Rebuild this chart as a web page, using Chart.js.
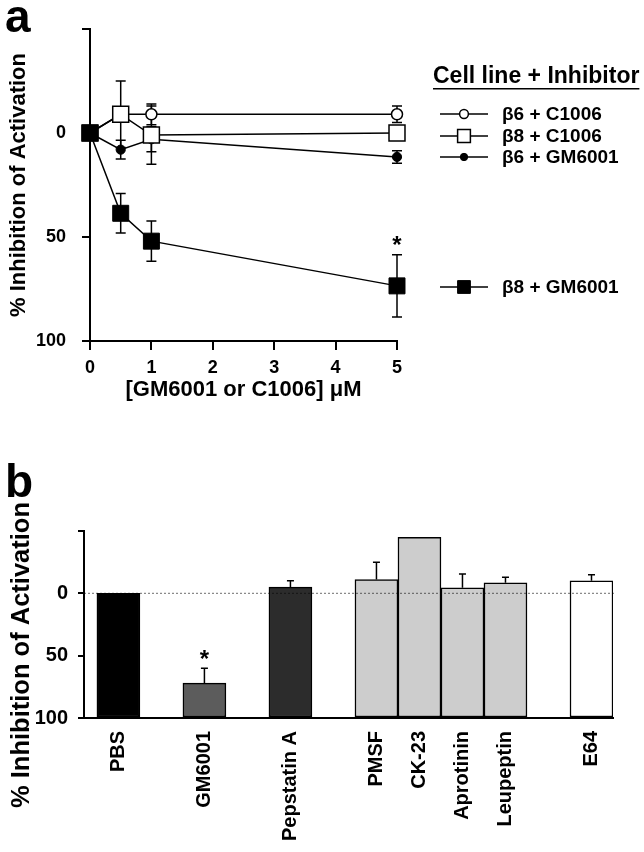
<!DOCTYPE html>
<html>
<head>
<meta charset="utf-8">
<script src="https://cdn.jsdelivr.net/npm/chart.js@4.4.0/dist/chart.umd.min.js"></script>
<style>
  html, body { margin: 0; padding: 0; background: #fff; }
  #wrap { position: relative; width: 644px; height: 852px; overflow: hidden; }
  #chartA { position: absolute; left: 0; top: 0; }
  #chartB { position: absolute; left: 0; top: 420px; }
</style>
</head>
<body>
<div id="wrap">
  <canvas id="chartA" width="644" height="420"></canvas>
  <canvas id="chartB" width="644" height="432"></canvas>
</div>
<script>
// ---------------- PANEL A DATA ----------------
const doses = [0, 0.5, 1, 5];
const doseTicks = [0, 1, 2, 3, 4, 5];
const inhibTicks = [-50, 0, 50, 100];

const b8GM6001 = [0, 38.6, 52, 73.5];
const b8GM6001Err = [0, 9.5, 9.7, 15];
const b8GM6001Star = [false, false, false, true];

const b8C1006 = [0, -9, 1, 0];
const b8C1006Err = [0, 16, 14, 2];

const b6C1006 = [0, -9, -9, -9];
const b6C1006Err = [0, 0, 5, 4];

const b6GM6001 = [0, 8, 3, 11.5];
const b6GM6001Err = [0, 4.5, 6, 3];

// ---------------- PANEL B DATA ----------------
const drugs = ["PBS", "", "GM6001", "", "Pepstatin A", "", "PMSF", "CK-23", "Aprotinin", "Leupeptin", "", "E64"];
const drugInhib = [0, null, 72, null, -5, null, -11, -45, -4.5, -8.5, null, -10];
const drugErr = [0, null, 12, null, 5, null, 14, 0, 11, 4.5, null, 5];
const drugStar = [false, null, true, null, false, null, false, false, false, false, null, false];
const drugFill = ["#000000", null, "#5c5c5c", null, "#2c2c2c", null, "#cdcdcd", "#cdcdcd", "#cdcdcd", "#cdcdcd", null, "#ffffff"];

const FONT = "'Liberation Sans', Arial, Helvetica, sans-serif";
Chart.defaults.font.family = FONT;
Chart.defaults.font.weight = "bold";
Chart.defaults.color = "#000";

const pts = (xs, ys) => xs.map((x, i) => ({ x, y: ys[i] }));

// ---------------- SHARED DRAW HELPERS ----------------
function drawErrorBars(chart, cap, upOnly) {
  const ctx = chart.ctx, xs = chart.scales.x, ys = chart.scales.y;
  ctx.save();
  ctx.strokeStyle = "#000";
  ctx.lineWidth = 1.5;
  chart.data.datasets.forEach(ds => {
    if (!ds.errors) return;
    ds.data.forEach((p, i) => {
      const e = ds.errors[p.i !== undefined ? p.i : i];
      if (!e) return;
      const x = xs.getPixelForValue(p.x);
      const yUp = ys.getPixelForValue(p.y - e);
      const yDn = ys.getPixelForValue(upOnly ? p.y : p.y + e);
      ctx.beginPath();
      ctx.moveTo(x, yUp); ctx.lineTo(x, yDn);
      ctx.moveTo(x - cap, yUp); ctx.lineTo(x + cap, yUp);
      if (!upOnly) { ctx.moveTo(x - cap, yDn); ctx.lineTo(x + cap, yDn); }
      ctx.stroke();
    });
  });
  ctx.restore();
}

function drawStars(chart) {
  const ctx = chart.ctx, xs = chart.scales.x, ys = chart.scales.y;
  ctx.save();
  ctx.fillStyle = "#000";
  ctx.font = "bold 24px " + FONT;
  ctx.textAlign = "center";
  ctx.textBaseline = "alphabetic";
  chart.data.datasets.forEach(ds => {
    if (!ds.stars) return;
    ds.data.forEach((p, i) => {
      const k = p.i !== undefined ? p.i : i;
      if (!ds.stars[k]) return;
      const x = xs.getPixelForValue(p.x);
      const yCap = ys.getPixelForValue(p.y - (ds.errors[k] || 0));
      ctx.fillText("*", x, yCap - 15 + 13.5);
    });
  });
  ctx.restore();
}

function panelLetter(ctx, letter, baseline) {
  ctx.save();
  ctx.fillStyle = "#000";
  ctx.font = "bold 46px " + FONT;
  ctx.textBaseline = "alphabetic";
  ctx.fillText(letter, 5, baseline);
  ctx.restore();
}

// ---------------- PANEL A ----------------
const legendA = {
  id: "legendA",
  beforeDatasetsDraw(chart) { drawErrorBars(chart, 5, false); },
  afterDatasetsDraw(chart) { drawStars(chart); },
  afterDraw(chart) {
    const ctx = chart.ctx;
    panelLetter(ctx, "a", 32);
    ctx.save();
    ctx.fillStyle = "#000";
    ctx.font = "bold 23px " + FONT;
    ctx.textBaseline = "alphabetic";
    ctx.fillText("Cell line + Inhibitor", 433, 83);
    const w = ctx.measureText("Cell line + Inhibitor").width;
    ctx.fillRect(433, 88, w, 1.5);
    // rows in legend order, placed beside series ends
    const rows = [[2, 114], [1, 136], [3, 157], [0, 287]];
    ctx.font = "bold 19px " + FONT;
    ctx.textBaseline = "middle";
    rows.forEach(([di, y]) => {
      const ds = chart.data.datasets[di];
      ctx.strokeStyle = "#000";
      ctx.lineWidth = 1.3;
      ctx.beginPath(); ctx.moveTo(440, y); ctx.lineTo(488, y); ctx.stroke();
      ctx.fillStyle = ds.pointBackgroundColor;
      ctx.strokeStyle = "#000";
      ctx.lineWidth = ds.pointBorderWidth;
      Chart.helpers.drawPoint(ctx, {
        pointStyle: ds.pointStyle, radius: ds.pointRadius * 0.8, rotation: 0, borderWidth: ds.pointBorderWidth
      }, 464, y);
      ctx.fillStyle = "#000";
      ctx.fillText(ds.label, 502, y + 1);
    });
    ctx.restore();
  }
};

function lineSet(label, ys, errs, style) {
  return Object.assign({
    label, data: pts(doses, ys), errors: errs, clip: false,
    borderColor: "#000", borderWidth: 1.5, tension: 0, fill: false,
    pointBorderColor: "#000"
  }, style);
}

new Chart(document.getElementById("chartA"), {
  type: "line",
  data: {
    datasets: [
      lineSet("β8 + GM6001", b8GM6001, b8GM6001Err, { stars: b8GM6001Star, pointStyle: "rect", pointRadius: 11.3, pointBackgroundColor: "#000", pointBorderWidth: 1 }),
      lineSet("β8 + C1006", b8C1006, b8C1006Err, { pointStyle: "rect", pointRadius: 11.3, pointBackgroundColor: "#fff", pointBorderWidth: 1.5 }),
      lineSet("β6 + C1006", b6C1006, b6C1006Err, { pointStyle: "circle", pointRadius: 5.5, pointBackgroundColor: "#fff", pointBorderWidth: 1.5 }),
      lineSet("β6 + GM6001", b6GM6001, b6GM6001Err, { pointStyle: "circle", pointRadius: 4.6, pointBackgroundColor: "#000", pointBorderWidth: 1 })
    ]
  },
  options: {
    responsive: false,
    animation: false,
    events: [],
    layout: { padding: { top: 29, right: 247, left: 0, bottom: 0 } },
    plugins: { legend: { display: false }, tooltip: { enabled: false } },
    scales: {
      x: {
        type: "linear", min: 0, max: 5,
        afterBuildTicks: s => { s.ticks = doseTicks.map(v => ({ value: v })); },
        afterFit: s => { s.height = 79; },
        ticks: { padding: 7, font: { size: 18, weight: "bold" }, color: "#000" },
        grid: { drawOnChartArea: false, tickLength: 9, color: "#000", lineWidth: 2 },
        border: { color: "#000", width: 2 },
        title: { display: true, text: "[GM6001 or C1006] μM", color: "#000", font: { size: 22, weight: "bold" }, padding: { top: 0, bottom: 17 } }
      },
      y: {
        type: "linear", reverse: true, min: -50, max: 100,
        afterBuildTicks: s => { s.ticks = inhibTicks.map(v => ({ value: v })); },
        afterFit: s => { s.width = 90; },
        ticks: { callback: v => (v < 0 ? "" : v), padding: 16, font: { size: 18, weight: "bold" }, color: "#000" },
        grid: { drawOnChartArea: false, tickLength: 8, color: "#000", lineWidth: 2 },
        border: { color: "#000", width: 2 },
        title: { display: true, text: "% Inhibition of Activation", color: "#000", font: { size: 22, weight: "bold" }, padding: { top: 6, bottom: 0 } }
      }
    }
  },
  plugins: [legendA]
});

// ---------------- PANEL B ----------------
const barPlugin = {
  id: "barPlugin",
  afterDatasetsDraw(chart) {
    const ctx = chart.ctx, ys = chart.scales.y, area = chart.chartArea;
    // dotted zero reference line
    ctx.save();
    ctx.globalCompositeOperation = "multiply";
    ctx.strokeStyle = "#8a8a8a";
    ctx.lineWidth = 1.2;
    ctx.setLineDash([2, 2]);
    const y0 = ys.getPixelForValue(0);
    ctx.beginPath(); ctx.moveTo(area.left, y0); ctx.lineTo(area.right + 2, y0); ctx.stroke();
    ctx.restore();
    drawErrorBars(chart, 3.5, true);
    drawStars(chart);
  },
  afterDraw(chart) {
    const ctx = chart.ctx;
    panelLetter(ctx, "b", 77);
    // y-axis title, sitting lower than the axis centre as in the figure
    ctx.save();
    ctx.fillStyle = "#000";
    ctx.font = "bold 25.5px " + FONT;
    ctx.textAlign = "center";
    ctx.textBaseline = "middle";
    ctx.translate(22, 235);
    ctx.rotate(-Math.PI / 2);
    ctx.fillText("% Inhibition of Activation", 0, 0);
    ctx.restore();
  }
};

const slots = drugs.map((d, i) => i).filter(i => drugs[i] !== "");

new Chart(document.getElementById("chartB"), {
  type: "bar",
  data: {
    datasets: [{
      data: slots.map(i => ({ x: i, y: drugInhib[i], i })),
      errors: drugErr,
      stars: drugStar,
      base: 100,
      backgroundColor: slots.map(i => drugFill[i]),
      borderColor: "#000",
      borderWidth: 1.5,
      borderSkipped: false,
      barPercentage: 1,
      categoryPercentage: 1
    }]
  },
  options: {
    responsive: false,
    animation: false,
    events: [],
    layout: { padding: { top: 111, right: 31, left: 0, bottom: 0 } },
    plugins: { legend: { display: false }, tooltip: { enabled: false } },
    scales: {
      x: {
        type: "linear", min: -0.8, max: 11.5, offset: false,
        afterBuildTicks: s => { s.ticks = slots.map(v => ({ value: v })); },
        afterFit: s => { s.height = 134; },
        ticks: {
          callback: v => drugs[v], autoSkip: false, maxRotation: 90, minRotation: 90,
          padding: 13, font: { size: 20, weight: "bold" }, color: "#000"
        },
        grid: { drawOnChartArea: false, drawTicks: false, color: "#000" },
        border: { color: "#000", width: 2 }
      },
      y: {
        type: "linear", reverse: true, min: -50, max: 100,
        afterBuildTicks: s => { s.ticks = inhibTicks.map(v => ({ value: v })); },
        afterFit: s => { s.width = 84; },
        ticks: { callback: v => (v < 0 ? "" : v), padding: 10, font: { size: 20, weight: "bold" }, color: "#000" },
        grid: { drawOnChartArea: false, tickLength: 6, color: "#000", lineWidth: 2 },
        border: { color: "#000", width: 2 }
      }
    }
  },
  plugins: [barPlugin]
});
</script>
</body>
</html>
